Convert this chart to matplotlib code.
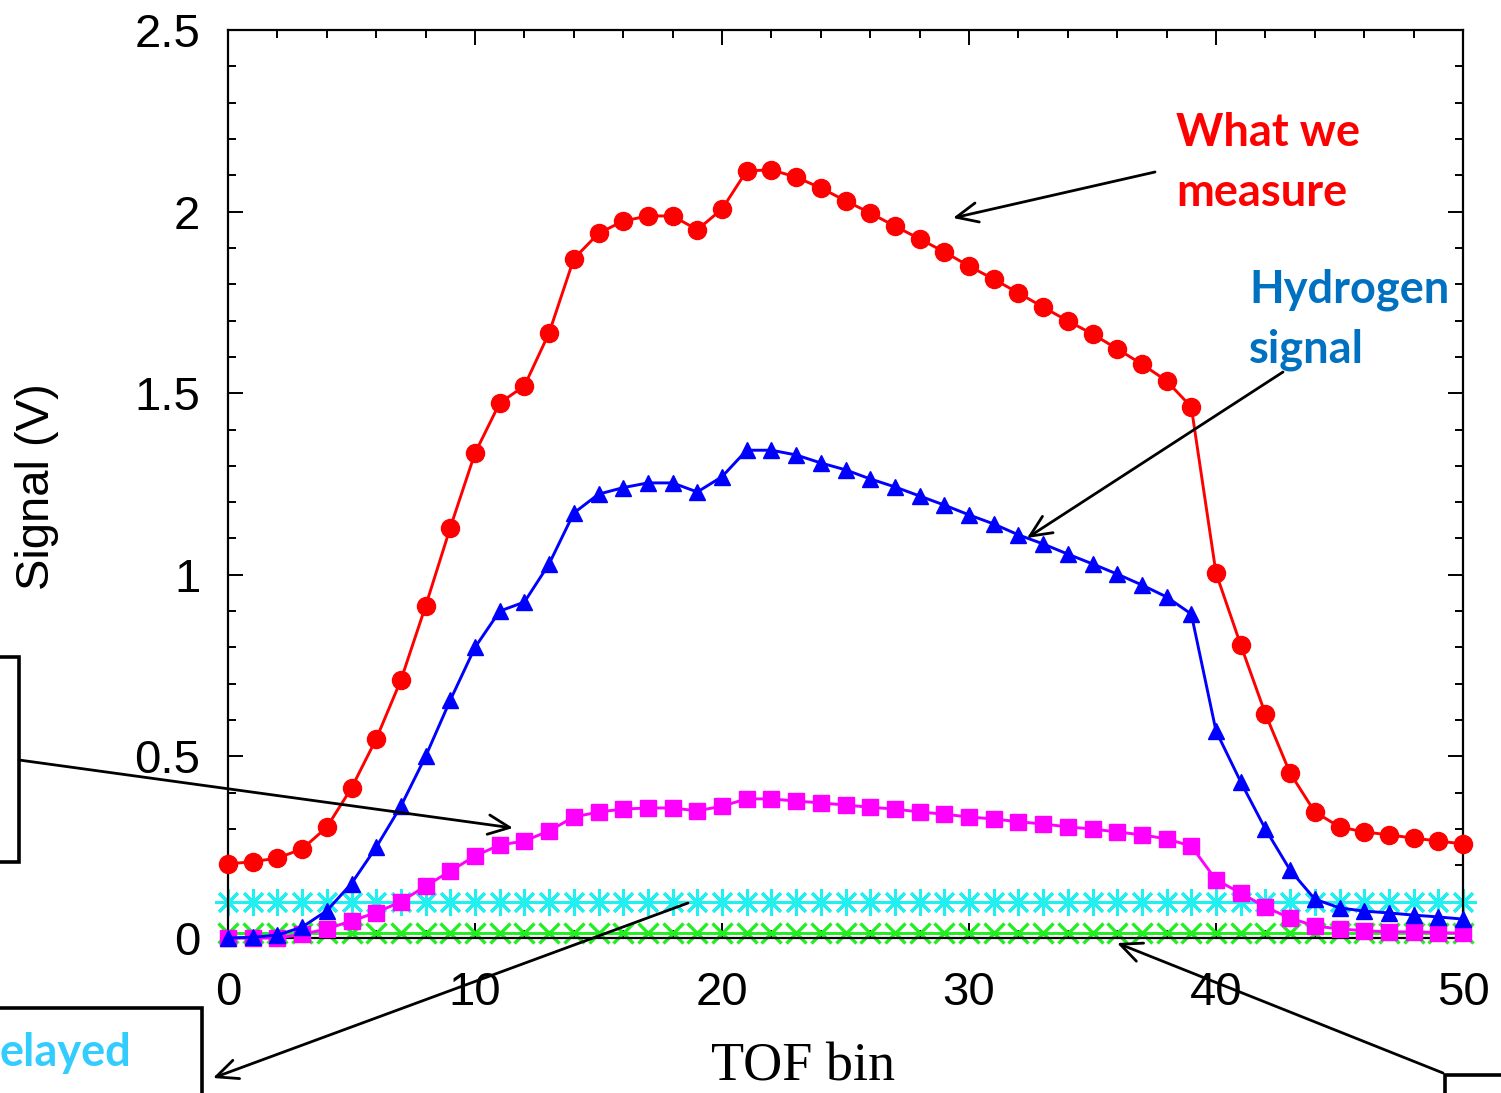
import matplotlib
matplotlib.use("Agg")
import matplotlib.pyplot as plt
from matplotlib.patches import Rectangle, FancyArrowPatch
from matplotlib.ticker import MultipleLocator

# ---------------- data ----------------
tof_bin = list(range(0, 51))

measured = [0.204, 0.21, 0.22, 0.245, 0.305, 0.413, 0.548, 0.71, 0.914, 1.13,
            1.335, 1.473, 1.52, 1.666, 1.87, 1.94, 1.974, 1.988, 1.988, 1.95,
            2.007, 2.112, 2.115, 2.095, 2.065, 2.03, 1.996, 1.96, 1.925, 1.889,
            1.85, 1.814, 1.776, 1.737, 1.699, 1.663, 1.622, 1.58, 1.534, 1.462,
            1.005, 0.807, 0.617, 0.454, 0.347, 0.306, 0.292, 0.284, 0.275, 0.267,
            0.259]

hydrogen = [0.0, 0.002, 0.008, 0.03, 0.075, 0.15, 0.25, 0.363, 0.5, 0.655,
            0.8, 0.9, 0.925, 1.03, 1.17, 1.222, 1.24, 1.253, 1.253, 1.228,
            1.27, 1.343, 1.343, 1.33, 1.308, 1.289, 1.264, 1.242, 1.217, 1.192,
            1.165, 1.14, 1.11, 1.085, 1.057, 1.03, 1.002, 0.972, 0.939, 0.892,
            0.57, 0.43, 0.3, 0.187, 0.107, 0.083, 0.074, 0.069, 0.063, 0.058,
            0.052]

other = [0.0, 0.0, 0.0, 0.01, 0.025, 0.047, 0.07, 0.1, 0.143, 0.184,
         0.226, 0.256, 0.267, 0.295, 0.333, 0.347, 0.355, 0.358, 0.358, 0.35,
         0.363, 0.383, 0.383, 0.377, 0.372, 0.366, 0.36, 0.355, 0.347, 0.341,
         0.333, 0.328, 0.32, 0.314, 0.306, 0.3, 0.292, 0.284, 0.273, 0.253,
         0.16, 0.124, 0.085, 0.055, 0.033, 0.025, 0.02, 0.017, 0.017, 0.015,
         0.013]

delayed = [0.1] * 51
baseline = [0.014] * 51

x_ticks = [0, 10, 20, 30, 40, 50]
y_ticks = [0, 0.5, 1, 1.5, 2, 2.5]
y_tick_labels = ["0", "0.5", "1", "1.5", "2", "2.5"]

# ---------------- figure ----------------
W, H = 1501, 1093
fig = plt.figure(figsize=(W / 100, H / 100), dpi=100)
ax = fig.add_axes([228 / W, 1 - 938 / H, 1235 / W, 908 / H])

lw = 2.1
ax.plot(tof_bin, baseline, color="#22EE22", lw=lw, marker="x", ms=14, mew=2.4,
        clip_on=False, zorder=2)
ax.plot(tof_bin, delayed, color="#22F0F0", lw=lw, marker=(8, 2, 0), ms=19, mew=2.2,
        clip_on=False, zorder=2)
ax.plot(tof_bin, other, color="#FF00FF", lw=lw, marker="s", ms=11.5,
        clip_on=False, zorder=3)
ax.plot(tof_bin, hydrogen, color="#0000FF", lw=lw, marker="^", ms=11.5,
        clip_on=False, zorder=4)
ax.plot(tof_bin, measured, color="#FF0000", lw=lw, marker="o", ms=13,
        clip_on=False, zorder=5)

ax.set_xlim(0, 50)
ax.set_ylim(0, 2.5)
ax.set_xticks(x_ticks)
ax.set_yticks(y_ticks)
ax.set_yticklabels(y_tick_labels)
ax.xaxis.set_minor_locator(MultipleLocator(2))
ax.yaxis.set_minor_locator(MultipleLocator(0.1))
ax.tick_params(which="both", direction="in", top=True, right=True, width=1.4)
ax.tick_params(which="major", length=11, labelsize=34)
ax.tick_params(axis="x", which="major", pad=24)
ax.tick_params(axis="y", which="major", pad=20)
ax.tick_params(which="minor", length=6)
for lab in ax.get_xticklabels() + ax.get_yticklabels():
    lab.set_family("Liberation Sans")
for s in ax.spines.values():
    s.set_linewidth(1.6)

ax.set_ylabel("Signal (V)", fontsize=34, family="Liberation Sans")
ax.yaxis.set_label_coords((37 - 228) / 1235, (938 - 487) / 908)
ax.yaxis.label.set_va("center")
ax.set_xlabel("TOF bin", fontsize=39, family="Liberation Serif")
ax.xaxis.set_label_coords((803 - 228) / 1235, (938 - 1067) / 908)
ax.xaxis.label.set_va("center")


def fp(x, y):
    return (x / W, 1 - y / H)


def arrow(tail, head):
    fig.add_artist(FancyArrowPatch(
        fp(*tail), fp(*head), transform=fig.transFigure,
        arrowstyle="->,head_length=1.1,head_width=0.5", lw=2.0, color="black",
        mutation_scale=14, zorder=10, shrinkA=0, shrinkB=0))


arrow((1155, 172), (953, 218))
arrow((1283, 372), (1027, 538))
arrow((19, 760), (513, 828))
arrow((688, 903), (213, 1078))
arrow((1443, 1073), (1117, 943))

# boxes
for (x0, y0, x1, y1) in [(-20, 657, 19, 862), (-20, 1008, 202, 1120), (1445, 1075, 1530, 1120)]:
    fig.add_artist(Rectangle(fp(x0, y1), (x1 - x0) / W, (y1 - y0) / H,
                             transform=fig.transFigure, fill=False, lw=2.6,
                             edgecolor="black", clip_on=False, zorder=10))

ann_font = dict(family="Lato", weight="bold", fontsize=32.5)
fig.text(*fp(1176, 133), "What we", color="#FF0000", va="center", ha="left", **ann_font)
fig.text(*fp(1176, 193), "measure", color="#FF0000", va="center", ha="left", **ann_font)
fig.text(*fp(1249, 290), "Hydrogen", color="#0070C0", va="center", ha="left", **ann_font)
fig.text(*fp(1249, 350), "signal", color="#0070C0", va="center", ha="left", **ann_font)
fig.text(*fp(0, 1053), "elayed", color="#33CCFF", va="center", ha="left", **ann_font)

fig.savefig("out.png", dpi=100)
